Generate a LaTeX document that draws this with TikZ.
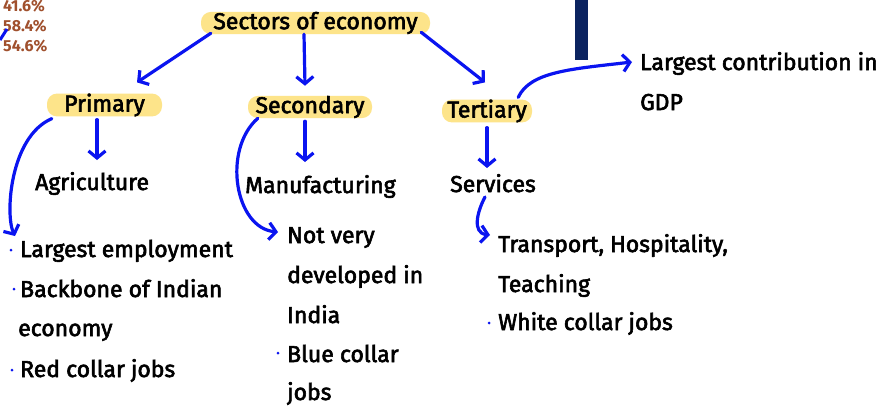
\documentclass[tikz,border=0pt]{standalone}
\usepackage{fontspec}
\newfontfamily\handfont{Fira Sans}[BoldFont={Fira Sans}, BoldFeatures={FakeBold=2.5}]
\newfontfamily\pctfont{Fira Sans}
\usetikzlibrary{arrows.meta,calc}
\definecolor{hl}{HTML}{FDE48A}
\definecolor{arr}{HTML}{0A14F0}
\definecolor{pct}{HTML}{A0502D}
\definecolor{navy}{HTML}{0B2360}
\tikzset{
  hbox/.style={fill=hl, rounded corners=10pt, inner sep=0pt, minimum height=20pt, font=\handfont\fontsize{23}{23}\selectfont\bfseries},
  txt/.style={inner sep=0pt, anchor=base west, font=\handfont\fontsize{23}{23}\selectfont\bfseries},
  pcttxt/.style={inner sep=0pt, anchor=base west, text=pct, font=\pctfont\fontsize{16}{16}\selectfont\bfseries},
  conn/.style={draw=arr, line width=3.2pt, line cap=round, -{Straight Barb[length=7pt,width=17pt,line width=3.2pt]}},
  bul/.style={circle, fill=arr, inner sep=0pt, minimum size=3pt}
}
\begin{document}
\begin{tikzpicture}[x=1pt,y=-1pt]
\useasboundingbox (0,0) rectangle (886,407);
\fill[white] (0,0) rectangle (886,407);
% navy bar
\fill[navy] (575,0) rectangle (588,60);
% percentages
\node[pcttxt] (pa) at (3,11) {41.6\%};
\node[pcttxt] (pb) at (3,31) {58.4\%};
\node[pcttxt] (pc) at (3,51) {54.6\%};
\coordinate (fragA) at (0,40);
\coordinate (fragB) at (7,29);
\draw[arr, line width=3pt] (fragA) -- (fragB);
% highlighted headers
\node[hbox, minimum width=229pt] (sectors) at (315.5,23) {Sectors of economy};
\node[hbox, minimum width=115pt] (primary) at (104.5,105) {Primary};
\node[hbox, minimum width=124pt] (secondary) at (310,107) {Secondary};
\node[hbox, minimum width=90pt, minimum height=22pt] (tertiary) at (487,111) {Tertiary};
% texts
\node[txt] (lc) at (640,70) {Largest contribution in};
\node[txt] (gdp) at (640,110) {GDP};
\node[txt] (agri) at (35,190) {Agriculture};
\node[txt] (manu) at (245,193) {Manufacturing};
\node[txt] (serv) at (450,192) {Services};
% primary list
\node[bul] (b1) at (11,250) {};
\node[txt] (p1) at (20,257) {Largest employment};
\node[bul] (b2) at (14,289) {};
\node[txt] (p2) at (20,297) {Backbone of Indian};
\node[txt] (p3) at (18,336) {economy};
\node[bul] (b3) at (12,370) {};
\node[txt] (p4) at (20,377) {Red collar jobs};
% secondary list
\node[txt] (s1) at (287,243) {Not very};
\node[txt] (s2) at (287,283) {developed in};
\node[txt] (s3) at (287,323) {India};
\node[bul] (b4) at (278,353) {};
\node[txt] (s4) at (287,362) {Blue collar};
\node[txt] (s5) at (287,400) {jobs};
% tertiary list
\node[txt] (t1) at (498,252) {Transport, Hospitality,};
\node[txt] (t2) at (498,292) {Teaching};
\node[bul] (b5) at (489,323) {};
\node[txt] (t3) at (498,330) {White collar jobs};
% connectors
\draw[conn] ([xshift=10pt,yshift=1pt]sectors.south west) -- ([xshift=32.5pt,yshift=11pt]primary.north);
\draw[conn] ([xshift=-11.5pt]sectors.south) -- ([xshift=-5pt,yshift=10pt]secondary.north);
\draw[conn] ([xshift=-9pt,yshift=2pt]sectors.south east) -- ([xshift=-2pt,yshift=17pt]tertiary.north);
\draw[conn] ([xshift=-14pt,yshift=2pt]tertiary.north east) .. controls +(12,-26) and +(-60,7) .. ([xshift=-8pt,yshift=8pt]lc.base west);
\draw[conn] ([xshift=-7.5pt,yshift=-3pt]primary.south) -- ([xshift=62pt,yshift=30pt]agri.base west);
\draw[conn] ([xshift=5pt,yshift=-2pt]primary.south west) .. controls +(-42,18) and +(-10,-21) .. ([xshift=4pt,yshift=14pt]b1.center);
\draw[conn] ([xshift=-5pt,yshift=-3pt]secondary.south) -- ([xshift=60pt,yshift=31pt]manu.base west);
\draw[conn] ([xshift=10pt]secondary.south west) .. controls (222,150) and (235,228) .. ([xshift=-9pt,yshift=11pt]s1.base west);
\draw[conn] ([yshift=-5pt]tertiary.south) -- ([xshift=37pt,yshift=24pt]serv.base west);
\draw[conn] ([xshift=35pt,yshift=-5pt]serv.base west) .. controls +(-8,15) and +(-18,-2) .. ([xshift=-8pt,yshift=17pt]t1.base west);
\end{tikzpicture}
\end{document}
